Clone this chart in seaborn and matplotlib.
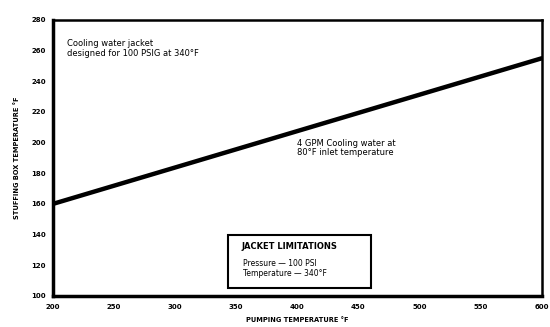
import matplotlib
matplotlib.use("Agg")
import matplotlib.pyplot as plt
import seaborn as sns
import pandas as pd

# Data
pumping_temp = [200, 600]        # deg F
stuffing_box_temp = [160, 255]   # deg F
x_ticks = [200, 250, 300, 350, 400, 450, 500, 550, 600]
y_ticks = [100, 120, 140, 160, 180, 200, 220, 240, 260, 280]

df = pd.DataFrame({'pump': pumping_temp, 'box': stuffing_box_temp})

sns.set_style("white")
plt.rcParams['font.family'] = ['DejaVu Sans']
plt.rcParams['text.color'] = 'black'
plt.rcParams['axes.labelcolor'] = 'black'
plt.rcParams['xtick.color'] = 'black'
plt.rcParams['ytick.color'] = 'black'

fig = plt.figure(figsize=(5.5, 3.27), dpi=100)
ax = fig.add_axes([0.096, 0.095, 0.889, 0.844])

sns.lineplot(data=df, x='pump', y='box', color='black', linewidth=3.2, ax=ax)

ax.set_xlim(200, 600)
ax.set_ylim(100, 280)
ax.set_xticks(x_ticks)
ax.set_yticks(y_ticks)
ax.set_xticklabels([str(t) for t in x_ticks], fontsize=5, fontweight='bold')
ax.set_yticklabels([str(t) for t in y_ticks], fontsize=5, fontweight='bold')
ax.tick_params(axis='y', direction='out', length=3, width=1.2, pad=2)
ax.tick_params(axis='x', direction='in', length=2, width=1.0, pad=6)

for side in ['left', 'bottom']:
    ax.spines[side].set_linewidth(2.5)
for side in ['top', 'right']:
    ax.spines[side].set_linewidth(1.8)
for s in ax.spines.values():
    s.set_color('black')

ax.set_xlabel('PUMPING TEMPERATURE °F', fontsize=4.8, fontweight='bold', labelpad=5)
ax.set_ylabel('STUFFING BOX TEMPERATURE °F', fontsize=4.8, fontweight='bold', labelpad=8)

# annotations
ax.text(0.03, 0.93, 'Cooling water jacket\ndesigned for 100 PSIG at 340°F',
        transform=ax.transAxes, fontsize=6, va='top', ha='left', linespacing=1.1)
ax.text(0.50, 0.57, '4 GPM Cooling water at\n80°F inlet temperature',
        transform=ax.transAxes, fontsize=6, va='top', ha='left', linespacing=1.1)

box = plt.Rectangle((0.358, 0.03), 0.292, 0.19, transform=ax.transAxes,
                    fill=False, edgecolor='black', linewidth=1.5)
ax.add_patch(box)
ax.text(0.385, 0.195, 'JACKET LIMITATIONS', transform=ax.transAxes,
        fontsize=6, fontweight='bold', va='top', ha='left')
ax.text(0.39, 0.135, 'Pressure — 100 PSI\nTemperature — 340°F', transform=ax.transAxes,
        fontsize=5.5, va='top', ha='left', linespacing=1.25)

fig.savefig('out.png', dpi=100)
